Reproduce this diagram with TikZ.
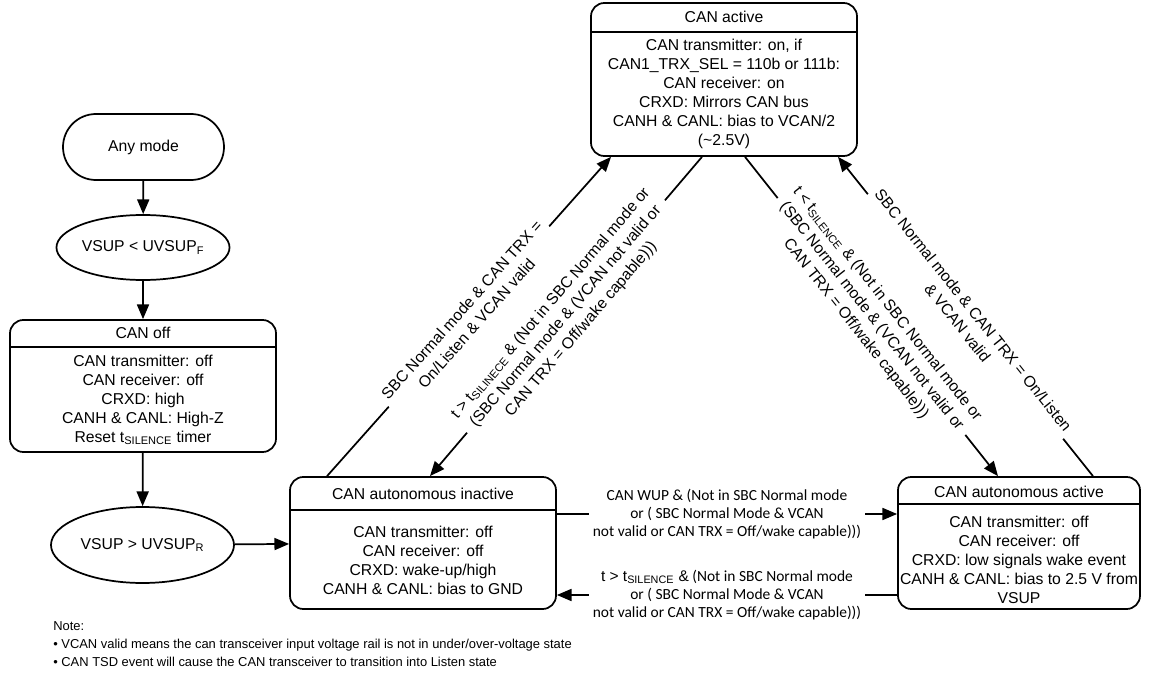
\documentclass[tikz,border=0pt]{standalone}
\usepackage{fontspec}
\setmainfont{Liberation Sans}
\newfontfamily\carlito{Carlito}
\usetikzlibrary{shapes.geometric,shapes.misc,arrows.meta,positioning,calc}

\begin{document}
\begin{tikzpicture}[x=0.75pt,y=-0.75pt,
  txt/.style={font=\fontsize{11.8}{14.25}\selectfont,align=center,inner sep=0pt},
  state/.style={draw,line width=1.3pt,rounded corners=10pt,inner sep=0pt,
                minimum width=199.5pt,minimum height=99pt},
  start/.style={txt,draw,line width=1.3pt,rounded rectangle,
                minimum width=120.75pt,minimum height=49.5pt},
  check/.style={txt,draw,line width=1.3pt,ellipse},
  sep/.style={line width=1.3pt},
  arrow/.style={-{Triangle[length=11pt,width=9pt]},line width=1.3pt},
  tag/.style={txt,font=\fontsize{11.8}{15}\selectfont,sloped,fill=white,inner sep=3pt},
  cond/.style={font=\carlito\fontsize{11.6}{13.5}\selectfont,align=center,
               fill=white,inner sep=3pt}
]
\useasboundingbox (0,0) rectangle (1158,678);

% left column
\node[start] (any) at (143.5,147) {Any mode};
\node[check,minimum width=121.5pt,minimum height=48.75pt] (vsupf) at (143,247.5)
  {VSUP < UVSUP\textsubscript{F}};
\node[state] (off) at (143,386) {};
\node[txt] at (143,333) {CAN off};
\draw[sep] ($(off.north west)+(0,28)$) -- ($(off.north east)+(0,28)$);
\node[txt] at (143,400)
  {CAN transmitter: off\\CAN receiver: off\\CRXD: high\\CANH \& CANL: High-Z\\
   Reset t\textsubscript{SILENCE} timer};
\node[check,minimum width=137.25pt,minimum height=57pt] (vsupr) at (142.5,545)
  {VSUP > UVSUP\textsubscript{R}};

% states
\node[state,minimum height=114.75pt] (active) at (724,79.5) {};
\node[txt] at (724,17) {CAN active};
\draw[sep] ($(active.north west)+(0,30)$) -- ($(active.north east)+(0,30)$);
\node[txt] at (724,94)
  {CAN transmitter: on, if\\CAN1\_TRX\_SEL = 110b or 111b:\\CAN receiver: on\\
   CRXD: Mirrors CAN bus\\CANH \& CANL: bias to VCAN/2\\(\textasciitilde2.5V)};

\node[state] (inactive) at (423,543) {};
\node[txt] at (423,494) {CAN autonomous inactive};
\draw[sep] ($(inactive.north west)+(0,34)$) -- ($(inactive.north east)+(0,34)$);
\node[txt] at (423,560.5)
  {CAN transmitter: off\\CAN receiver: off\\CRXD: wake-up/high\\CANH \& CANL: bias to GND};

\node[state,minimum width=181.5pt] (autoactive) at (1019,543) {};
\node[txt] at (1019,492) {CAN autonomous active};
\draw[sep] ($(autoactive.north west)+(0,28)$) -- ($(autoactive.north east)+(0,28)$);
\node[txt] at (1019,559.5)
  {CAN transmitter: off\\CAN receiver: off\\CRXD: low signals wake event\\
   CANH \& CANL: bias to 2.5 V from\\VSUP};

% transitions
\draw[arrow] (any) -- (vsupf);
\draw[arrow] (vsupf) -- (off);
\draw[arrow] (off) -- (vsupr);
\draw[arrow] (vsupr) -- (inactive);

\draw[arrow] ($(inactive.north)+(-96,0)$) -- node[tag]
  {SBC Normal mode \& CAN TRX =\\On/Listen \& VCAN valid} ($(active.south)+(-113,0)$);
\draw[arrow] ($(active.south)+(-22,0)$) -- node[tag]
  {t > t\textsubscript{SILINECE} \& (Not in SBC Normal mode or\\
   (SBC Normal mode \& (VCAN not valid or\\CAN TRX = Off/wake capable)))}
  ($(inactive.north)+(7,0)$);
\draw[arrow] ($(active.south)+(21,0)$) -- node[tag]
  {t < t\textsubscript{SILENCE} \& (Not in SBC Normal mode or\\
   (SBC Normal mode \& (VCAN not valid or\\CAN TRX = Off/wake capable)))}
  ($(autoactive.north)+(-21,0)$);
\draw[arrow] ($(autoactive.north)+(74,0)$) -- node[tag]
  {SBC Normal mode \& CAN TRX = On/Listen\\\& VCAN valid} ($(active.south)+(114,0)$);

\draw[arrow] ($(inactive.east)+(0,-29)$) -- node[cond]
  {CAN WUP \& (Not in SBC Normal mode\\or ( SBC Normal Mode \& VCAN\\
   not valid or CAN TRX = Off/wake capable)))} ($(autoactive.west)+(0,-29)$);
\draw[arrow] ($(autoactive.west)+(0,52)$) -- node[cond]
  {{\rmfamily t > t\textsubscript{SILENCE} \&} (Not in SBC Normal mode\\
   or ( SBC Normal Mode \& VCAN\\not valid or CAN TRX = Off/wake capable)))}
  ($(inactive.east)+(0,52)$);

% note
\node[font=\fontsize{9.7}{13.5}\selectfont,align=left,anchor=north west,inner sep=0pt]
  (note) at (53,621)
  {Note:\\
   \textbullet{} VCAN valid means the can transceiver input voltage rail is not in under/over-voltage state\\
   \textbullet{} CAN TSD event will cause the CAN transceiver to transition into Listen state};
\end{tikzpicture}
\end{document}
